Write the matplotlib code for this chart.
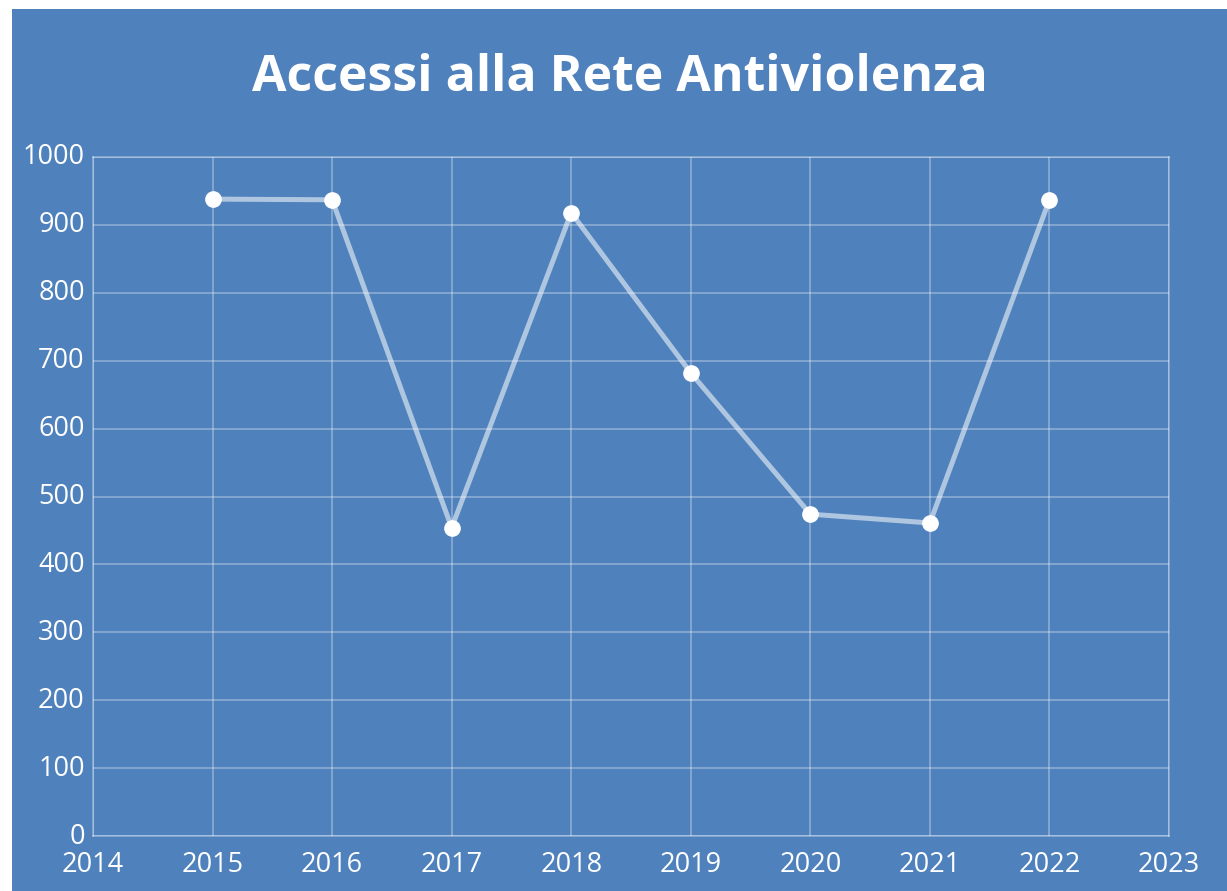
import matplotlib.pyplot as plt
import matplotlib.transforms as mtransforms
from matplotlib.patches import Rectangle

anni = [2015, 2016, 2017, 2018, 2019, 2020, 2021, 2022]
accessi = [938, 937, 454, 918, 682, 474, 461, 937]
x_ticks = list(range(2014, 2024))
y_ticks = list(range(0, 1001, 100))

BG = '#4F81BD'

fig = plt.figure(figsize=(12.27, 8.91), dpi=100)
fig.patch.set_facecolor('white')
# sfondo blu del grafico (con bordo bianco in alto e a sinistra)
fig.patches.append(Rectangle((12 / 1227, 0), 1 - 12 / 1227, 1 - 9 / 891,
                             transform=fig.transFigure, facecolor=BG,
                             edgecolor='none', zorder=-10))

ax = fig.add_axes([93 / 1227, 1 - 836 / 891, (1169 - 93) / 1227, (836 - 157) / 891])
ax.set_facecolor(BG)

ax.plot(anni, accessi, color='white', alpha=0.55, linewidth=3.6, zorder=3,
        solid_capstyle='round')
ax.plot(anni, accessi, linestyle='none', marker='o', markersize=11,
        markerfacecolor='white', markeredgecolor='white', zorder=4)

ax.set_xlim(2014, 2023)
ax.set_ylim(0, 1000)
ax.set_xticks(x_ticks)
ax.set_yticks(y_ticks)
ax.grid(True, color='white', alpha=0.35, linewidth=1.2)
ax.set_axisbelow(True)
for s in ax.spines.values():
    s.set_color((1, 1, 1, 0.35))
    s.set_linewidth(1.2)

ax.tick_params(length=0, colors='white', labelsize=19.5)
ax.tick_params(axis='y', pad=6)
ax.tick_params(axis='x', pad=11)
for lab in ax.get_xticklabels() + ax.get_yticklabels():
    lab.set_family('Open Sans')
# etichette y leggermente sopra la griglia, come nell'originale
su = mtransforms.ScaledTranslation(0, 3 / 100, fig.dpi_scale_trans)
for lab in ax.get_yticklabels():
    lab.set_transform(lab.get_transform() + su)

fig.text(620 / 1227, 1 - 78 / 891, 'Accessi alla Rete Antiviolenza',
         ha='center', va='center', color='white', fontsize=36,
         fontweight='bold', family='Open Sans')

fig.savefig('out.png', dpi=100, facecolor=fig.get_facecolor())
